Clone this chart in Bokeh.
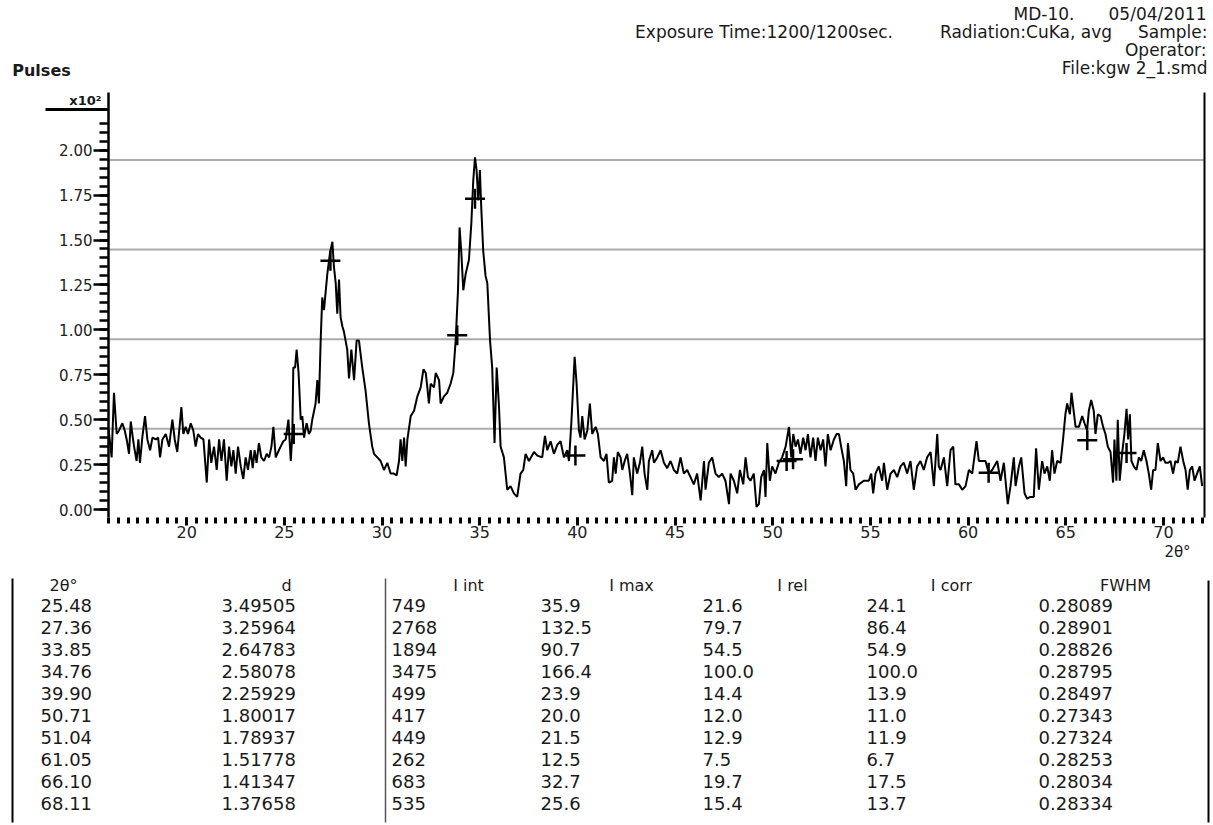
import numpy as np
from bokeh.plotting import figure
from bokeh.models import Range1d, FixedTicker, PrintfTickFormatter
from bokeh.embed import file_html
from bokeh.resources import INLINE
from bokeh.core.properties import value

FONT = "DejaVu Sans"

# ---------------- diffractogram (Pulses x10^2 vs 2theta) ----------------
theta_a = [16.01, 16.16, 16.28, 16.42, 16.54, 16.71, 16.83, 16.93, 17.05, 17.14, 17.22, 17.31, 17.44, 17.53,
           17.61, 17.73, 17.87, 17.99, 18.13, 18.25, 18.42, 18.54, 18.64, 18.76, 18.93, 19.10, 19.27, 19.39,
           19.52, 19.73, 19.83, 19.95, 20.07, 20.21, 20.34, 20.46, 20.58, 20.72, 20.86, 21.03, 21.15, 21.26,
           21.40, 21.54, 21.66, 21.78, 21.91, 22.05, 22.17, 22.29, 22.39, 22.51, 22.63, 22.77, 22.90, 23.02,
           23.14, 23.28, 23.38, 23.48, 23.58, 23.70, 23.82, 23.96, 24.10, 24.22, 24.34, 24.44, 24.56, 24.68,
           24.81, 24.95, 25.07, 25.21, 25.33, 25.41, 25.46, 25.55, 25.63, 25.73, 25.84, 25.92, 26.01, 26.14,
           26.26, 26.35, 26.43, 26.60, 26.69, 26.77, 26.86, 26.94, 27.03, 27.20, 27.34, 27.46, 27.54, 27.63,
           27.71, 27.80, 27.88, 27.97, 28.05, 28.22, 28.31, 28.43, 28.57, 28.70, 28.82, 28.99, 29.16, 29.33,
           29.50, 29.59, 29.76, 29.93, 30.10, 30.27, 30.44, 30.61, 30.75, 30.87, 30.95, 31.04, 31.13, 31.21,
           31.30, 31.47, 31.64, 31.81, 31.98, 32.12, 32.24, 32.32, 32.40, 32.49, 32.66, 32.75, 32.92, 33.00,
           33.17, 33.34, 33.51, 33.65, 33.77, 33.89, 33.97, 34.06, 34.16, 34.28, 34.45, 34.57, 34.67, 34.76,
           34.84, 34.93, 35.01, 35.08, 35.18, 35.30, 35.39, 35.53, 35.64, 35.76, 35.87, 35.99, 36.07, 36.24,
           36.41, 36.58, 36.75, 36.92]
pulses_a = [0.44, 0.29, 0.65, 0.42, 0.44, 0.48, 0.44, 0.39, 0.31, 0.49, 0.42, 0.35, 0.27, 0.39,
            0.26, 0.40, 0.52, 0.39, 0.33, 0.40, 0.39, 0.40, 0.29, 0.39, 0.42, 0.35, 0.50, 0.39,
            0.32, 0.57, 0.42, 0.46, 0.42, 0.48, 0.44, 0.35, 0.42, 0.40, 0.39, 0.15, 0.39, 0.26,
            0.35, 0.22, 0.39, 0.27, 0.39, 0.16, 0.35, 0.24, 0.33, 0.20, 0.35, 0.24, 0.17, 0.29,
            0.22, 0.33, 0.23, 0.33, 0.26, 0.37, 0.29, 0.27, 0.31, 0.29, 0.35, 0.46, 0.29, 0.32,
            0.35, 0.38, 0.39, 0.50, 0.27, 0.42, 0.79, 0.79, 0.89, 0.76, 0.50, 0.52, 0.40, 0.48,
            0.42, 0.44, 0.50, 0.59, 0.72, 0.59, 0.94, 1.18, 1.11, 1.31, 1.43, 1.49, 1.35, 1.26,
            1.09, 1.28, 1.07, 1.02, 0.99, 0.89, 0.73, 0.89, 0.72, 0.94, 0.94, 0.79, 0.66, 0.48,
            0.35, 0.31, 0.29, 0.27, 0.22, 0.26, 0.20, 0.20, 0.19, 0.27, 0.39, 0.27, 0.40, 0.24,
            0.39, 0.52, 0.55, 0.63, 0.68, 0.78, 0.76, 0.68, 0.59, 0.70, 0.68, 0.76, 0.72, 0.59,
            0.63, 0.65, 0.70, 0.76, 0.94, 1.22, 1.57, 1.43, 1.22, 1.31, 1.39, 1.59, 1.83, 1.96,
            1.89, 1.72, 1.89, 1.68, 1.44, 1.30, 1.26, 0.94, 0.79, 0.37, 0.79, 0.57, 0.35, 0.29,
            0.11, 0.13, 0.09, 0.07]

theta_b = [37.09, 37.23, 37.35, 37.52, 37.78, 37.95, 38.20, 38.34, 38.46, 38.63, 38.80, 38.97, 39.14, 39.31,
           39.48, 39.57, 39.69, 39.86, 39.96, 40.08, 40.16, 40.25, 40.37, 40.51, 40.64, 40.76, 40.93, 41.05,
           41.19, 41.36, 41.49, 41.61, 41.78, 41.87, 41.96, 42.07, 42.21, 42.30, 42.42, 42.55, 42.69, 42.81,
           42.89, 43.06, 43.20, 43.32, 43.44, 43.58, 43.66, 43.83, 43.92, 44.09, 44.26, 44.43, 44.60, 44.77,
           44.94, 45.11, 45.28, 45.45, 45.62, 45.79, 45.96, 46.13, 46.31, 46.48, 46.56, 46.73, 46.90, 47.07,
           47.24, 47.41, 47.58, 47.76, 47.84, 48.01, 48.18, 48.32, 48.49, 48.61, 48.73, 48.86, 49.03, 49.17,
           49.29, 49.41, 49.55, 49.63, 49.72, 49.85, 49.97, 50.14, 50.31, 50.48, 50.66, 50.83, 50.95, 51.05,
           51.17, 51.29, 51.42, 51.56, 51.68, 51.80, 51.93, 52.07, 52.19, 52.31, 52.45, 52.58, 52.70, 52.82,
           52.96, 53.13, 53.27, 53.39, 53.50, 53.64, 53.76, 53.85, 53.98, 54.12, 54.24, 54.41, 54.66, 54.92,
           55.04, 55.14, 55.26, 55.43, 55.60, 55.69, 55.86, 56.03, 56.20, 56.37, 56.54]
pulses_b = [0.20, 0.22, 0.31, 0.27, 0.32, 0.30, 0.29, 0.41, 0.33, 0.38, 0.31, 0.36, 0.38, 0.29,
            0.33, 0.27, 0.48, 0.85, 0.70, 0.44, 0.40, 0.52, 0.39, 0.44, 0.59, 0.42, 0.46, 0.42,
            0.29, 0.27, 0.31, 0.15, 0.16, 0.29, 0.20, 0.32, 0.29, 0.22, 0.27, 0.31, 0.20, 0.08,
            0.29, 0.20, 0.26, 0.35, 0.20, 0.11, 0.27, 0.33, 0.26, 0.29, 0.33, 0.26, 0.23, 0.27,
            0.22, 0.20, 0.29, 0.20, 0.22, 0.18, 0.14, 0.20, 0.05, 0.27, 0.11, 0.26, 0.29, 0.20,
            0.18, 0.20, 0.16, 0.03, 0.20, 0.16, 0.09, 0.22, 0.14, 0.29, 0.18, 0.16, 0.20, 0.015,
            0.03, 0.18, 0.22, 0.07, 0.37, 0.16, 0.24, 0.20, 0.26, 0.29, 0.35, 0.46, 0.29, 0.42,
            0.35, 0.39, 0.31, 0.40, 0.33, 0.42, 0.29, 0.40, 0.27, 0.40, 0.33, 0.39, 0.24, 0.42,
            0.33, 0.39, 0.42, 0.42, 0.35, 0.27, 0.13, 0.37, 0.22, 0.20, 0.11, 0.14, 0.16, 0.16,
            0.20, 0.09, 0.20, 0.24, 0.16, 0.26, 0.11, 0.20, 0.22, 0.18, 0.24]

theta_c = [56.71, 56.88, 57.05, 57.22, 57.39, 57.56, 57.73, 57.90, 58.08, 58.25, 58.42, 58.50, 58.59, 58.76,
           58.93, 59.10, 59.24, 59.35, 59.53, 59.70, 59.87, 60.04, 60.21, 60.43, 60.55, 60.72, 60.89, 61.06,
           61.23, 61.49, 61.66, 61.83, 62.03, 62.17, 62.34, 62.43, 62.60, 62.72, 62.89, 63.02, 63.19, 63.36,
           63.48, 63.62, 63.79, 63.91, 64.05, 64.18, 64.30, 64.42, 64.56, 64.73, 64.86, 64.98, 65.07, 65.21,
           65.29, 65.38, 65.50, 65.67, 65.84, 65.96, 66.09, 66.18, 66.30, 66.43, 66.52, 66.64, 66.78, 66.91,
           67.03, 67.15, 67.29, 67.42, 67.49, 67.59, 67.66, 67.76, 67.88, 68.00, 68.11, 68.19, 68.28, 68.36,
           68.48, 68.62, 68.74, 68.86, 68.99, 69.13, 69.25, 69.37, 69.47, 69.59, 69.71, 69.85, 69.98, 70.10,
           70.24, 70.36, 70.49, 70.61, 70.73, 70.87, 71.01, 71.13, 71.24, 71.35, 71.47, 71.59, 71.72, 71.86,
           71.98]
pulses_c = [0.26, 0.20, 0.27, 0.11, 0.24, 0.27, 0.22, 0.29, 0.32, 0.13, 0.42, 0.24, 0.22, 0.29,
            0.13, 0.33, 0.35, 0.14, 0.14, 0.11, 0.13, 0.22, 0.20, 0.38, 0.27, 0.27, 0.27, 0.20,
            0.22, 0.27, 0.16, 0.26, 0.03, 0.13, 0.29, 0.13, 0.24, 0.29, 0.09, 0.06, 0.07, 0.07,
            0.34, 0.11, 0.27, 0.20, 0.24, 0.16, 0.33, 0.20, 0.27, 0.26, 0.39, 0.53, 0.59, 0.53,
            0.65, 0.57, 0.46, 0.46, 0.52, 0.48, 0.44, 0.55, 0.61, 0.55, 0.42, 0.53, 0.52, 0.46,
            0.42, 0.35, 0.32, 0.15, 0.39, 0.16, 0.50, 0.16, 0.31, 0.42, 0.56, 0.39, 0.53, 0.27,
            0.24, 0.22, 0.29, 0.27, 0.33, 0.27, 0.20, 0.11, 0.22, 0.22, 0.37, 0.27, 0.29, 0.26,
            0.26, 0.27, 0.20, 0.27, 0.26, 0.35, 0.27, 0.22, 0.11, 0.22, 0.24, 0.16, 0.20, 0.24,
            0.13]

# peak list (table)
peak_2theta = [25.48, 27.36, 33.85, 34.76, 39.90, 50.71, 51.04, 61.05, 66.10, 68.11]
peak_d = [3.49505, 3.25964, 2.64783, 2.58078, 2.25929, 1.80017, 1.78937, 1.51778, 1.41347, 1.37658]
peak_iint = [749, 2768, 1894, 3475, 499, 417, 449, 262, 683, 535]
peak_imax = [35.9, 132.5, 90.7, 166.4, 23.9, 20.0, 21.5, 12.5, 32.7, 25.6]
peak_irel = [21.6, 79.7, 54.5, 100.0, 14.4, 12.0, 12.9, 7.5, 19.7, 15.4]
peak_icorr = [24.1, 86.4, 54.9, 100.0, 13.9, 11.0, 11.9, 6.7, 17.5, 13.7]
peak_fwhm = [0.28089, 0.28901, 0.28826, 0.28795, 0.28497, 0.27343, 0.27324, 0.28253, 0.28034, 0.28334]
# heights of the peak "+" markers as drawn (x10^2 pulses)
peak_mark_y = [0.42, 1.385, 0.97, 1.73, 0.30, 0.27, 0.28, 0.205, 0.385, 0.315]

# horizontal reference levels (x10^2 pulses)
ref_levels = [0.45, 0.948, 1.447, 1.945]

# axis ticks
x_major = [20, 25, 30, 35, 40, 45, 50, 55, 60, 65, 70]
x_minor = [16 + 0.5 * i for i in range(113)]
y_major = [0.0, 0.25, 0.5, 0.75, 1.0, 1.25, 1.5, 1.75, 2.0]
y_minor = [round(0.05 * i, 2) for i in range(44)]

scan_2theta = theta_a + theta_b + theta_c
scan_pulses = pulses_a + pulses_b + pulses_c

# data window of the diffractogram
X0, X1 = 16.0, 72.1
Y0, Y1 = -0.0445, 2.321

# ---------------- page-sized figure; axes fixed at the data window edges ----------------
W, H = 1213, 825
p = figure(width=W, height=H, output_backend="svg", toolbar_location=None, title=None,
           x_range=Range1d(10.472, 72.5607), y_range=Range1d(-1.75875, 2.83305),
           min_border=0, min_border_left=0, min_border_right=0, min_border_top=0, min_border_bottom=0)
p.outline_line_color = None
p.xgrid.visible = False
p.ygrid.visible = False
p.background_fill_color = "white"
p.border_fill_color = "white"
# page-pixel ranges for texts of the header and of the peak table
p.extra_x_ranges = {"px": Range1d(0, W)}
p.extra_y_ranges = {"py": Range1d(H, 0)}

xa = p.xaxis[0]
xa.fixed_location = Y0
xa.bounds = (X0, X1)
xa.ticker = FixedTicker(ticks=x_major, minor_ticks=x_minor)
xa.axis_line_color = None
xa.major_tick_in = 0
xa.major_tick_out = 8
xa.major_tick_line_width = 3
xa.major_tick_line_color = "black"
xa.minor_tick_in = 0
xa.minor_tick_out = 6
xa.minor_tick_line_width = 3
xa.minor_tick_line_color = "black"
xa.major_label_standoff = 0
xa.major_label_text_font = FONT
xa.major_label_text_font_size = "16px"
xa.major_label_text_color = "#222222"

ya = p.yaxis[0]
ya.fixed_location = X0
ya.bounds = (Y0, Y1)
ya.ticker = FixedTicker(ticks=y_major, minor_ticks=y_minor)
ya.formatter = PrintfTickFormatter(format="%.2f")
ya.axis_line_width = 2.5
ya.axis_line_color = "black"
ya.major_tick_in = 0
ya.major_tick_out = 15
ya.major_tick_line_width = 2.5
ya.major_tick_line_color = "black"
ya.minor_tick_in = 0
ya.minor_tick_out = 9
ya.minor_tick_line_width = 2.5
ya.minor_tick_line_color = "black"
ya.major_label_standoff = 1
ya.major_label_text_font = FONT
ya.major_label_text_font_size = "15px"
ya.major_label_text_color = "#222222"

# horizontal reference lines and right frame edge
p.segment(x0=[X0] * len(ref_levels), y0=ref_levels, x1=[X1] * len(ref_levels), y1=ref_levels,
          line_color="#ababab", line_width=2)
p.segment(x0=[X1], y0=[Y0], x1=[X1], y1=[Y1], line_color="black", line_width=2)

p.line(scan_2theta, scan_pulses, line_color="black", line_width=2)
p.scatter(peak_2theta, peak_mark_y, marker="cross", size=20, line_width=2.5, line_color="black")

def txt(xs, ys, texts, size="17px", align="center", style="normal", color="#1a1a1a"):
    p.text(x=xs, y=ys, text=texts, x_range_name="px", y_range_name="py",
           text_font=value(FONT), text_font_size=size, text_align=align,
           text_baseline="middle", text_font_style=style, text_color=color)

# header
txt([1043.5], [13], ["MD-10."])
txt([1206], [13], ["05/04/2011"], align="right")
txt([763.5, 1025.5], [31, 31], ["Exposure Time:1200/1200sec.", "Radiation:CuKa, avg"])
txt([1207], [31], ["Sample:"], align="right")
txt([1206], [49], ["Operator:"], align="right")
txt([1207], [67], ["File:kgw 2_1.smd"], align="right")
txt([41], [70], ["Pulses"], size="16px", style="bold")
txt([101], [100], ["x10²"], size="13px", align="right", style="bold")
p.segment(x0=[45], y0=[109], x1=[108], y1=[109], x_range_name="px", y_range_name="py",
          line_color="black", line_width=3)
txt([1177], [551], ["2θ°"], size="15px")

# peak table
headers = ["2θ°", "d", "I int", "I max", "I rel", "I corr", "FWHM"]
head_x = [63, 286, 468, 631, 792, 951, 1125]
col_x = [40, 221, 391, 540, 702, 866, 1038]
txt(head_x, [585] * 7, headers, size="16px")
cols = [["%.2f" % v for v in peak_2theta],
        ["%.5f" % v for v in peak_d],
        ["%d" % v for v in peak_iint],
        ["%.1f" % v for v in peak_imax],
        ["%.1f" % v for v in peak_irel],
        ["%.1f" % v for v in peak_icorr],
        ["%.5f" % v for v in peak_fwhm]]
row_y = [605 + 22 * i for i in range(len(peak_2theta))]
for cx, ctext in zip(col_x, cols):
    txt([cx] * len(ctext), row_y, ctext, size="18px", align="left")
p.segment(x0=[12, 385, 1208], y0=[578, 578, 580], x1=[12, 385, 1208], y1=[822, 822, 822],
          x_range_name="px", y_range_name="py",
          line_color=["black", "#555555", "black"], line_width=[2, 1.5, 2])

open("out.html", "w").write(file_html(p, INLINE))
